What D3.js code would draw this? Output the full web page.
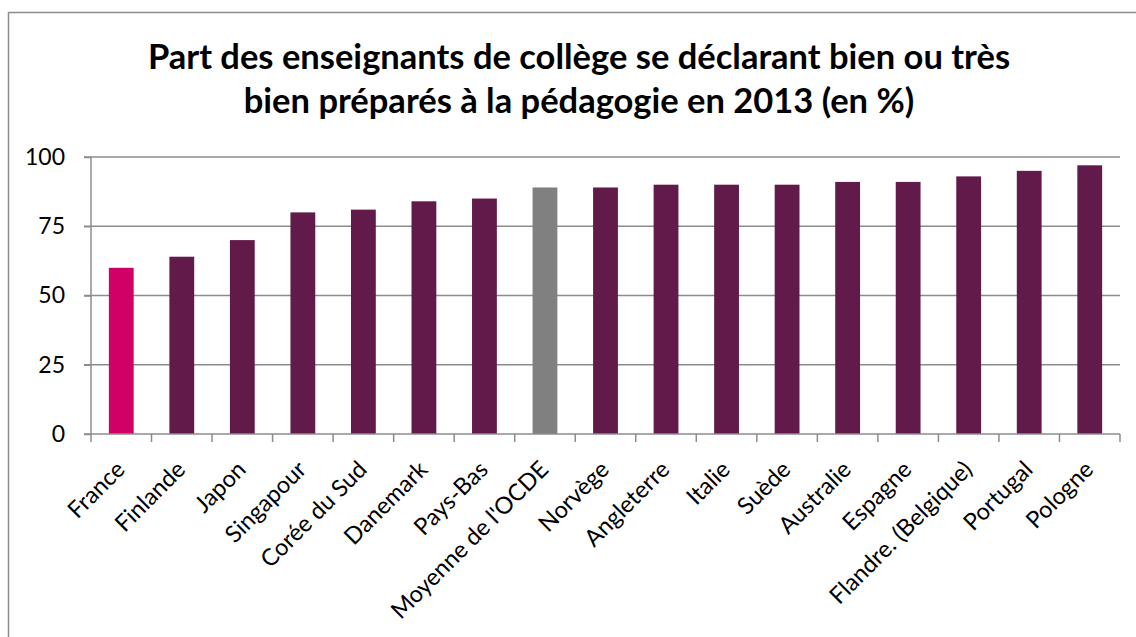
<!DOCTYPE html>
<head>
  <meta charset="utf-8">
  <script src="https://d3js.org/d3.v7.min.js"></script>
  <style>
    body { margin:0; background:#fff; }
    svg text { font-family: Lato, "Open Sans", sans-serif; }
  </style>
</head>
<body>
<svg id="chart" width="1136" height="637"></svg>
<script>
  var countries = ["France","Finlande","Japon","Singapour","Corée du Sud","Danemark","Pays-Bas",
    "Moyenne de l'OCDE","Norvège","Angleterre","Italie","Suède","Australie","Espagne",
    "Flandre.  (Belgique)","Portugal","Pologne"];
  var values = [60,64,70,80,81,84,85,89,89,90,90,90,91,91,93,95,97];
  var yTicks = [0,25,50,75,100];
  var titleLines = ["Part des enseignants de collège se déclarant bien ou très",
    "bien préparés à la pédagogie en 2013 (en %)"];

  var svg = d3.select("#chart");
  var pLeft = 91, pRight = 1120, pTop = 157, pBottom = 434;

  // outer frame (runs off right/bottom edge)
  svg.append("rect").attr("x",8.5).attr("y",12.5).attr("width",1140).attr("height",640)
    .attr("fill","none").attr("stroke","#8c8c8c").attr("stroke-width",1.5);

  svg.selectAll(".title").data(titleLines).enter().append("text")
    .attr("x",579).attr("y",function(d,i){ return 69 + i*44; })
    .attr("text-anchor","middle").style("font-weight","bold").style("font-size","34.5px")
    .attr("fill","#000").text(function(d){ return d; });

  var x = d3.scaleBand().domain(countries).range([pLeft,pRight]).paddingInner(0.59).paddingOuter(0.295);
  var y = d3.scaleLinear().domain([0,100]).range([pBottom,pTop]);

  // gridlines
  svg.append("g").selectAll("line").data(yTicks.filter(function(d){return d>0;})).enter().append("line")
    .attr("x1",pLeft-7).attr("x2",pRight).attr("y1",function(d){return y(d);}).attr("y2",function(d){return y(d);})
    .attr("stroke","#8c8c8c").attr("stroke-width",1.5);

  svg.append("g").selectAll("rect").data(values).enter().append("rect")
    .attr("x",function(d,i){ return x(countries[i]); })
    .attr("y",function(d){ return y(d); })
    .attr("width",x.bandwidth())
    .attr("height",function(d){ return pBottom - y(d); })
    .attr("fill",function(d,i){ return i===0 ? "#d10066" : (i===7 ? "#808080" : "#621a4a"); });

  var yAxis = svg.append("g").attr("transform","translate("+pLeft+",0)")
    .call(d3.axisLeft(y).tickValues(yTicks).tickSize(7).tickPadding(19));
  yAxis.selectAll("line, path").attr("stroke","#8c8c8c").attr("stroke-width",1.5);
  yAxis.select(".domain").attr("d","M0,"+pTop+"V"+pBottom);
  yAxis.selectAll("text").style("font-size","23px").attr("fill","#000")
    .style("font-family","Lato, 'Open Sans', sans-serif");

  var step = x.step();
  var xAxis = svg.append("g").attr("transform","translate(0,"+pBottom+")");
  xAxis.append("line").attr("x1",pLeft-7).attr("x2",pRight).attr("y1",0).attr("y2",0)
    .attr("stroke","#8c8c8c").attr("stroke-width",1.5);
  xAxis.selectAll(".tk").data(d3.range(countries.length+1)).enter().append("line")
    .attr("x1",function(i){ return pLeft + i*step; }).attr("x2",function(i){ return pLeft + i*step; })
    .attr("y1",0).attr("y2",8).attr("stroke","#8c8c8c").attr("stroke-width",1.5);
  xAxis.selectAll(".lbl").data(countries).enter().append("text")
    .attr("transform",function(d){ return "translate("+(x(d)+x.bandwidth()/2+5)+",37) rotate(-45)"; })
    .attr("text-anchor","end").style("font-size","23.5px").attr("fill","#000")
    .text(function(d){ return d; });
</script>
</body>
